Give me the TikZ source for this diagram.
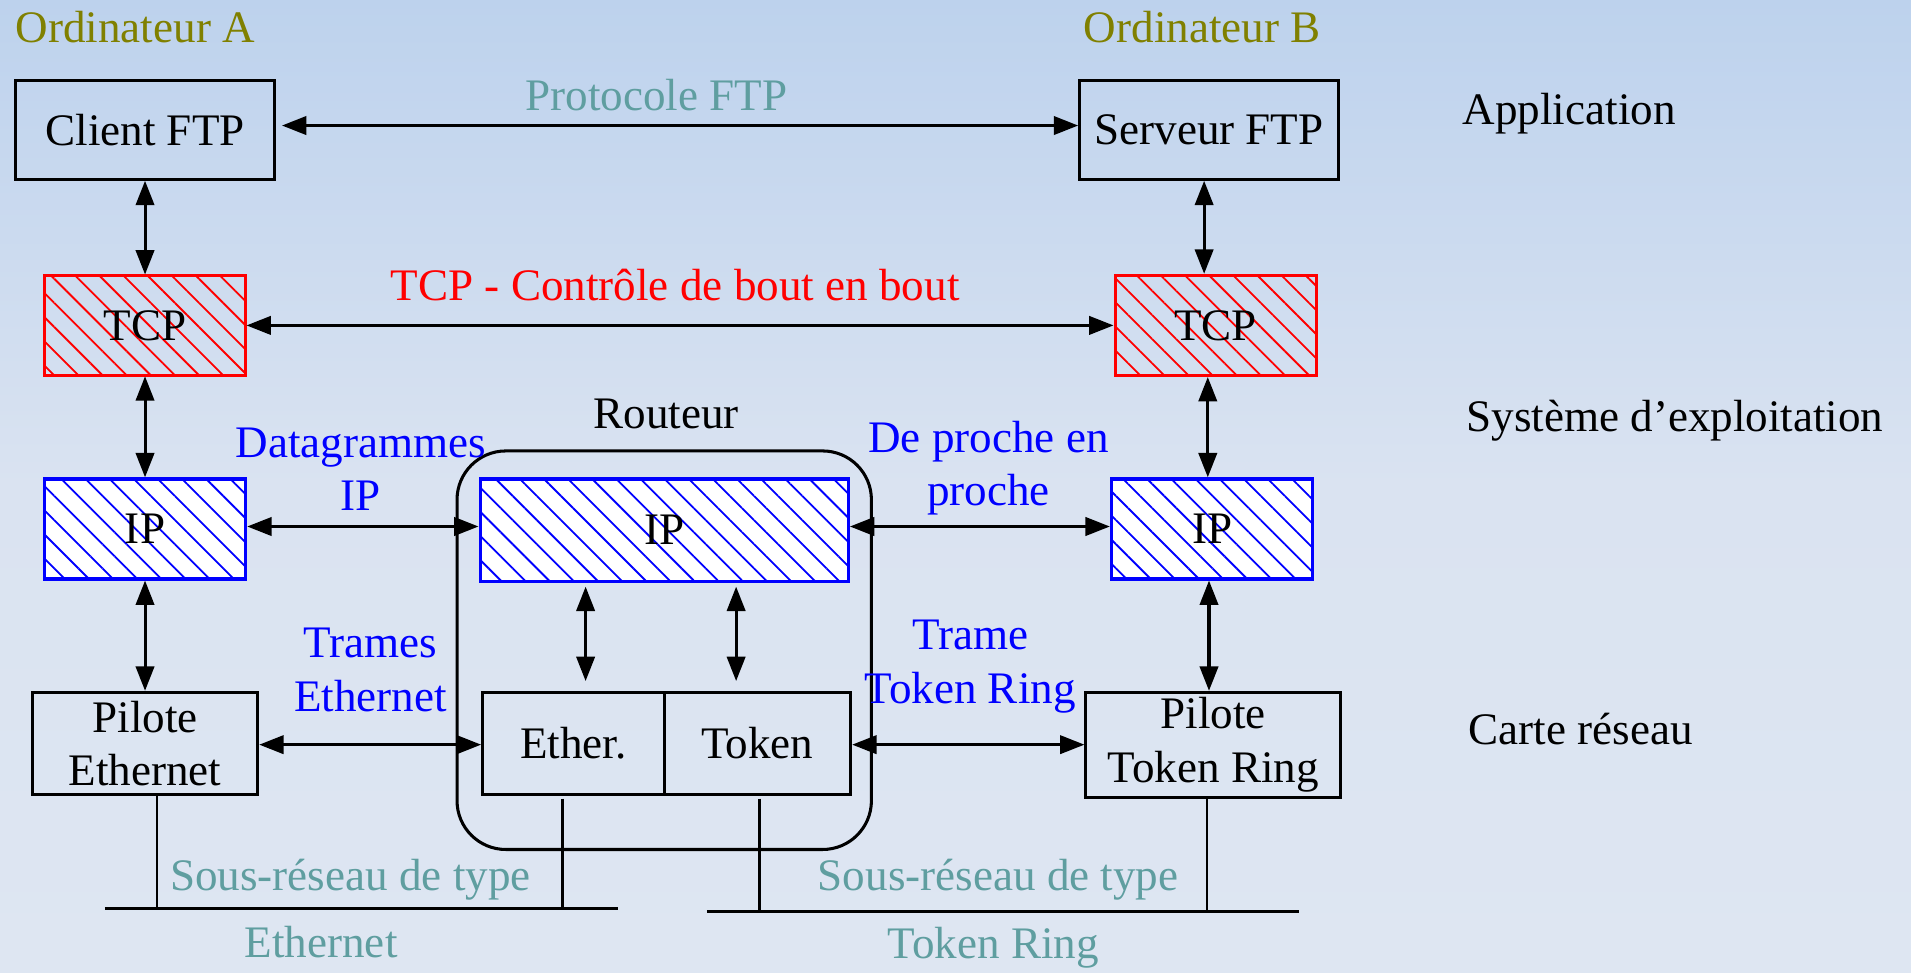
\documentclass[tikz,border=0pt]{standalone}
\usepackage{fontspec}
\setmainfont{Liberation Serif}
\usetikzlibrary{arrows.meta,patterns.meta,calc}
\definecolor{olivetxt}{RGB}{128,128,0}
\definecolor{tealtxt}{RGB}{95,158,160}
\definecolor{bgtop}{RGB}{189,210,237}
\definecolor{bgmid}{RGB}{218,227,241}
\definecolor{bgbot}{RGB}{222,230,242}
\begin{document}
\begin{tikzpicture}[x=1pt,y=-1pt,
  every node/.style={font=\fontsize{37}{44}\selectfont, inner sep=0pt},
  blk/.style={draw=black, line width=2.4pt, align=center},
  tcpbox/.style={draw=red, line width=2.7pt, pattern={Lines[angle=-45,distance=14pt,line width=1.5pt]}, pattern color=red},
  ipbox/.style={draw=blue, line width=2.7pt, preaction={fill=white}, pattern={Lines[angle=-45,distance=14pt,line width=1.5pt]}, pattern color=blue},
  arr/.style={{Triangle[length=20pt,width=15pt]}-{Triangle[length=20pt,width=15pt]}, line width=2.5pt},
  drop/.style={line width=2pt},
  bus/.style={line width=3pt}]
\useasboundingbox (0,0) rectangle (1568,798);
\shade[top color=bgtop, bottom color=bgbot, middle color=bgmid] (0,0) rectangle (1568,798);

% router
\node[draw, line width=2.5pt, rounded corners=40pt, minimum width=340pt, minimum height=327pt] (rt) at (545,533.5) {};

% boxes
\node[blk, line width=2.7pt, minimum width=212pt, minimum height=81pt] (cA) at (119,106.5) {Client FTP};
\node[blk, line width=2.7pt, minimum width=212pt, minimum height=81pt] (sB) at (992,106.5) {Serveur FTP};
\node[tcpbox, minimum width=165pt, minimum height=82pt] (tA) at (119,267) {TCP};
\node[tcpbox, minimum width=165pt, minimum height=82pt] (tB) at (997.5,267) {TCP};
\node[ipbox, minimum width=165pt, minimum height=82pt] (iA) at (119,434) {IP};
\node[ipbox, minimum width=165pt, minimum height=82pt] (iB) at (994.5,434) {IP};
\node[ipbox, minimum width=302pt, minimum height=84pt] (iR) at (545,435) {IP};
\node[blk, minimum width=149pt, minimum height=84pt] (eth) at (470.5,610) {Ether.};
\node[blk, minimum width=153pt, minimum height=84pt] (tok) at (621.5,610) {Token};
\node[blk, minimum width=185pt, minimum height=84pt] (pE) at (119,610) {Pilote\\Ethernet};
\node[blk, minimum width=209pt, minimum height=86pt] (pT) at (995.5,611) {Pilote\\Token Ring};

% vertical arrows
\draw[arr] (cA) -- (tA);
\draw[arr] (tA) -- (iA);
\draw[arr] (iA) -- (pE);
\draw[arr] ([xshift=-4pt]sB.south) -- ([xshift=-4pt]sB.south |- tB.north);
\draw[arr] ([xshift=-6.5pt]tB.south) -- ([xshift=-6.5pt]tB.south |- iB.north);
\draw[arr] ([xshift=-2.5pt]iB.south) -- ([xshift=-2.5pt]iB.south |- pT.north);
\draw[arr, shorten <=3pt, shorten >=8pt] ([xshift=10pt]eth.north |- iR.south) -- ([xshift=10pt]eth.north);
\draw[arr, shorten <=3pt, shorten >=8pt] ([xshift=-17.5pt]tok.north |- iR.south) -- ([xshift=-17.5pt]tok.north);

% horizontal arrows
\draw[arr, shorten <=5pt] ([yshift=3.5pt]cA.east) -- ([yshift=3.5pt]cA.east -| sB.west);
\draw[arr] (tA.east) -- (tA.east -| tB.west);
\draw[arr] ([yshift=2pt]iA.east) -- ([yshift=2pt]iA.east -| iR.west);
\draw[arr] ([yshift=3pt]iR.east) -- ([yshift=3pt]iR.east -| iB.west);
\draw[arr] ([yshift=-1pt]pE.east) -- ([yshift=-1pt]pE.east -| eth.west);
\draw[arr] ([yshift=-1pt]tok.east) -- ([yshift=-1pt]tok.east -| pT.west);

% buses
\coordinate (ebL) at (86,745.5);
\coordinate (ebR) at (507,745.5);
\coordinate (tbL) at (580,748);
\coordinate (tbR) at (1066,748);
\draw[bus] (ebL) -- (ebR);
\draw[bus] (tbL) -- (tbR);
\draw[drop] ([xshift=10pt]pE.south) -- ([xshift=10pt]pE.south |- ebL);
\draw[drop] ([xshift=-9pt,yshift=-2pt]eth.south) -- ([xshift=-9pt]eth.south |- ebL);
\draw[drop] ([xshift=1.5pt,yshift=-2pt]tok.south) -- ([xshift=1.5pt]tok.south |- tbL);
\draw[drop] ([xshift=-5pt]pT.south) -- ([xshift=-5pt]pT.south |- tbL);

% labels
\node[text=olivetxt] (oA) at (111,22) {Ordinateur A};
\node[text=olivetxt] (oB) at (986.5,22) {Ordinateur B};
\node[text=tealtxt] (lFTP) at (538.5,78) {Protocole FTP};
\node[text=red] (lTCP) at (554,234) {TCP - Contrôle de bout en bout};
\node[anchor=west] (lApp) at (1200,93) {Application};
\node[anchor=west] (lSys) at (1203,345) {Système d’exploitation};
\node[anchor=west] (lCarte) at (1205,598) {Carte réseau};
\node (lRout) at (546.5,340) {Routeur};
\node[text=blue, align=center] (lDG) at (296,385) {Datagrammes\\IP};
\node[text=blue, align=center] (lDP) at (811,384) {De proche en\\proche};
\node[text=blue, align=center] (lTE) at (304,549.5) {Trames\\Ethernet};
\node[text=blue, align=center] (lTT) at (796,547) {Trame\\Token Ring};
\node[text=tealtxt] (lSE1) at (287.5,722) {Sous-réseau de type};
\node[text=tealtxt] (lSE2) at (263.5,773) {Ethernet};
\node[text=tealtxt] (lST1) at (819,722) {Sous-réseau de type};
\node[text=tealtxt] (lST2) at (815,778) {Token Ring};
\end{tikzpicture}
\end{document}
